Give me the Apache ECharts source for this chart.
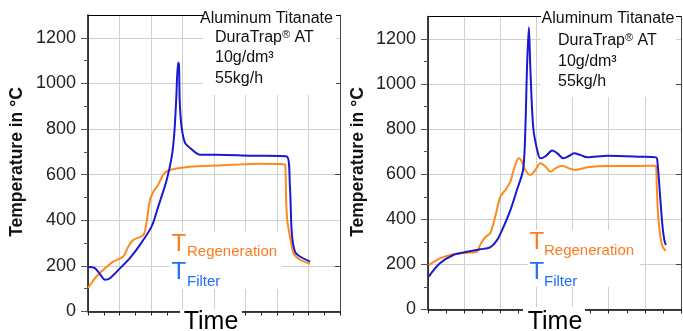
<!DOCTYPE html>
<html>
<head>
<meta charset="utf-8">
<script src="https://cdn.jsdelivr.net/npm/echarts@6/dist/echarts.min.js"></script>
<style>html,body{margin:0;padding:0;background:#fff}#c{width:683px;height:331px}</style>
</head>
<body>
<div id="c"></div>
<script>
// ---- data (x in grid units of time, y in °C) ----
const leftRegeneration = [[0,103],[0.27,154],[0.54,190],[0.8,219],[1.12,241],[1.28,285],[1.44,314],[1.76,336],[1.87,402],[1.97,490],[2.08,526],[2.23,556],[2.39,600],[2.55,618],[2.92,629],[3.34,636],[4.61,643],[5.35,648],[6.2,646],[6.26,643],[6.29,490],[6.33,395],[6.47,285],[6.52,256],[6.73,227],[7.05,209]];
const leftFilter = [[0,195],[0.22,190],[0.4,160],[0.54,139],[0.7,146],[1.02,190],[1.33,234],[1.65,292],[2.02,373],[2.23,460],[2.5,578],[2.66,680],[2.74,782],[2.8,928],[2.86,1092],[2.89,1080],[2.91,928],[2.97,811],[3.08,739],[3.24,717],[3.56,687],[4.08,687],[5.14,683],[6.31,680],[6.41,548],[6.47,344],[6.57,263],[6.73,241],[7.05,219]];
const rightRegeneration = [[0.02,197],[0.33,227],[0.7,245],[1.07,252],[1.35,256],[1.44,286],[1.58,320],[1.72,338],[1.86,412],[2.0,500],[2.14,530],[2.28,567],[2.37,619],[2.51,671],[2.6,656],[2.69,619],[2.83,597],[2.97,619],[3.11,649],[3.25,634],[3.39,611],[3.52,626],[3.71,638],[3.9,626],[4.08,619],[4.41,631],[4.96,637],[5.89,637],[6.26,638],[6.31,636],[6.33,545],[6.37,412],[6.43,323],[6.49,279],[6.58,261]];
const rightFilter = [[0.02,146],[0.33,205],[0.7,242],[1.07,256],[1.44,267],[1.72,276],[1.91,308],[2.09,367],[2.28,441],[2.46,530],[2.63,619],[2.69,782],[2.74,1077],[2.79,1252],[2.83,1077],[2.91,811],[3.02,708],[3.11,671],[3.25,680],[3.44,705],[3.58,693],[3.74,671],[3.9,681],[4.04,693],[4.22,685],[4.41,675],[4.96,682],[5.89,678],[6.31,675],[6.35,652],[6.43,486],[6.49,367],[6.54,308],[6.58,286]];
const yMajorTicks = [0,200,400,600,800,1000,1200];
const yMinorTicks = [100,300,500,700,900,1100];
const yRightTicks = [200,600,1000];
const infoTitle = 'Aluminum Titanate';
const infoLines = ['DuraTrap{s|®} AT', '10g/dm³', '55kg/h'];
const xName = 'Time';
const yName = 'Temperature in °C';

const F = 'Liberation Sans, Arial, sans-serif';
const ORANGE = '#ff8a1c', BLUE = '#1919d2', TXT_OR = '#ff7a1f', TXT_BL = '#1f6cff';
const GRIDC = '#cfcfcf';

function xAxes(gi, max) {
  return [
    {gridIndex: gi, type: 'value', min: 0, max: max, interval: 1, position: 'bottom',
     axisLine: {show: true, onZero: false, lineStyle: {color: '#000', width: 1.5}},
     axisTick: {show: true, length: 4, lineStyle: {color: '#222'}},
     minorTick: {show: true, splitNumber: 2, length: 4, lineStyle: {color: '#222'}},
     axisLabel: {show: false},
     splitLine: {show: true, lineStyle: {color: GRIDC, width: 1}}},
    {gridIndex: gi, type: 'value', min: 0, max: max, interval: 1, position: 'top',
     axisLine: {show: true, onZero: false, lineStyle: {color: '#000', width: 1}},
     axisTick: {show: false}, axisLabel: {show: false}, splitLine: {show: false}}
  ];
}
function yAxes(gi) {
  return [
    {gridIndex: gi, type: 'value', min: 0, max: 1300, interval: 200, position: 'left',
     axisLine: {show: true, onZero: false, lineStyle: {color: '#000', width: 1.5}},
     axisTick: {show: true, length: 7, customValues: yMajorTicks, lineStyle: {color: '#555'}},
     axisLabel: {fontSize: 18, color: '#222', margin: 12, fontFamily: F, showMaxLabel: false,
                 formatter: function (v) { return String(v); }},
     splitLine: {show: true, lineStyle: {color: GRIDC, width: 1}}},
    {gridIndex: gi, type: 'value', min: 0, max: 1300, interval: 100, position: 'left',
     axisLine: {show: false, onZero: false},
     axisTick: {show: true, length: 4, customValues: yMinorTicks, lineStyle: {color: '#555'}},
     axisLabel: {show: false}, splitLine: {show: false}},
    {gridIndex: gi, type: 'value', min: 0, max: 1300, interval: 100, position: 'right',
     axisLine: {show: true, onZero: false, lineStyle: {color: '#444', width: 1}},
     axisTick: {show: true, inside: true, length: 5, customValues: yRightTicks, lineStyle: {color: '#444'}},
     axisLabel: {show: false}, splitLine: {show: false}}
  ];
}
function line(data, color, xi, yi) {
  return {type: 'line', data: data, xAxisIndex: xi, yAxisIndex: yi, showSymbol: false, symbol: 'none',
          smooth: 0.3, z: 20,
          lineStyle: {color: color, width: 2}};
}
function panel(ox, infoX, infoCX, infoYs, legX, legYs, timeRect, timeCX, yNameX) {
  const els = [];
  els.push({type: 'rect', z: 5, shape: {x: infoX[0], y: infoX[1], width: infoX[2], height: infoX[3]}, style: {fill: '#fff'}});
  els.push({type: 'text', z: 6, x: infoCX, y: infoYs[0], style: {text: infoTitle, fontSize: 16, fontFamily: F, fill: '#111', align: 'center', verticalAlign: 'middle'}});
  for (let i = 0; i < infoLines.length; i++) {
    els.push({type: 'text', z: 6, x: ox, y: infoYs[i + 1], style: {text: infoLines[i], fontSize: 16, fontFamily: F, fill: '#111', align: 'left', verticalAlign: 'middle',
      rich: {s: {fontSize: 11, fontFamily: F, fill: '#111', verticalAlign: 'top'}}}});
  }
  els.push({type: 'rect', z: 5, shape: {x: legX[0] - 2, y: legYs[4], width: 112, height: 57}, style: {fill: '#fff'}});
  els.push({type: 'text', z: 6, x: legX[0], y: legYs[0], style: {text: 'T', fontSize: 24, fontFamily: F, fill: TXT_OR, align: 'left', verticalAlign: 'middle'}});
  els.push({type: 'text', z: 6, x: legX[1], y: legYs[1], style: {text: 'Regeneration', fontSize: 15, fontFamily: F, fill: TXT_OR, align: 'left', verticalAlign: 'middle'}});
  els.push({type: 'text', z: 6, x: legX[0], y: legYs[2], style: {text: 'T', fontSize: 24, fontFamily: F, fill: TXT_BL, align: 'left', verticalAlign: 'middle'}});
  els.push({type: 'text', z: 6, x: legX[1], y: legYs[3], style: {text: 'Filter', fontSize: 15, fontFamily: F, fill: TXT_BL, align: 'left', verticalAlign: 'middle'}});
  els.push({type: 'rect', z: 5, shape: {x: timeRect[0], y: timeRect[1], width: timeRect[2], height: timeRect[3]}, style: {fill: '#fff'}});
  els.push({type: 'text', z: 6, x: timeCX, y: 322, style: {text: xName, fontSize: 25, fontFamily: F, fill: '#000', align: 'center', verticalAlign: 'middle'}});
  els.push({type: 'text', z: 6, x: yNameX, y: 162, rotation: Math.PI / 2, style: {text: yName, fontSize: 17.5, fontWeight: 'bold', fontFamily: F, fill: '#111', align: 'center', verticalAlign: 'middle'}});
  return els;
}

const chart = echarts.init(document.getElementById('c'), null, {renderer: 'canvas'});
chart.setOption({
  animation: false,
  backgroundColor: '#fff',
  grid: [
    {left: 88, top: 15, width: 252, height: 296.5},
    {left: 428, top: 16.5, width: 253, height: 293}
  ],
  xAxis: [].concat(xAxes(0, 8), xAxes(1, 7)),
  yAxis: [].concat(yAxes(0), yAxes(1)),
  series: [
    line(leftRegeneration, ORANGE, 0, 0),
    line(leftFilter, BLUE, 0, 0),
    line(rightRegeneration, ORANGE, 2, 3),
    line(rightFilter, BLUE, 2, 3)
  ],
  graphic: [].concat(
    panel(215, [203, 6, 133, 89], 266.5, [18.5, 37.5, 58, 78.5], [171.5, 187], [244.6, 251.4, 272.6, 281.4, 232], [180, 309, 62, 22], 211, 17),
    panel(558, [541, 7, 135, 90], 608, [19, 40.5, 61.5, 81.5], [529.5, 544], [242.6, 250.4, 272, 282, 230], [523, 307, 62, 24], 555, 358)
  )
});
</script>
</body>
</html>
